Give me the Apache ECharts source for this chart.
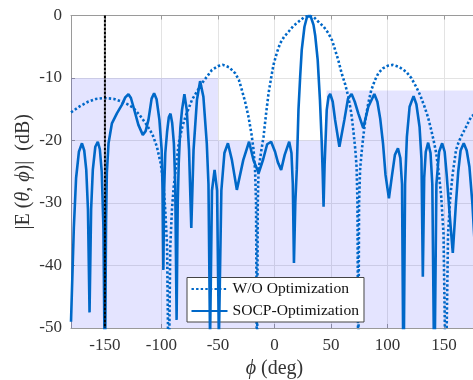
<!DOCTYPE html>
<html><head><meta charset="utf-8">
<script src="https://cdn.jsdelivr.net/npm/echarts@6/dist/echarts.min.js"></script>
<style>html,body{margin:0;padding:0;background:#fff}#c{width:473px;height:380px}</style>
</head><body><div id="c"></div>
<script>
// ---- data ----
const xTicks = [-150, -100, -50, 0, 50, 100, 150];
const yTicks = [0, -10, -20, -30, -40, -50];

const phiWO = [-180,-172,-165,-158,-150,-142,-135,-130,-124.8,-119,-113,-108,-104,-100.5,-98,-96.5,-95,-93.6,-92.2,-90.7,-89.2,-87.4,-84.7,-81.5,-78.8,-73,-64.2,-55.3,-50,-45.6,-40,-34.7,-31.5,-28.9,-26,-23,-20.5,-18.5,-17.2,-16.3,-15.5,-14.8,-14.1,-12,-9.7,-7.5,-5.3,-3,-0.9,2,5,8.5,12.4,16.5,21.2,26,30.5,35,38.8,43.5,47.7,51,53.6,56.5,59.4,62.5,65.3,67.8,69.7,71.5,72.6,73.4,74.1,74.8,75.7,77,78.5,80.5,83,85.5,88.9,92,95.9,100,104.7,110,116.5,121,125.3,129,132.7,135.8,138.6,141,143,145.2,147.5,149.5,151.5,153.5,155.5,157.7,160.6,162.8,165,169.5,173.9,177,180];
const valWO = [-15.5,-14.5,-13.8,-13.35,-13.2,-13.35,-13.8,-14.2,-14.8,-16,-17.5,-19,-21,-23.8,-27.5,-31.5,-37,-60,-37,-31,-27.5,-24.7,-20.4,-17.8,-16.2,-13.5,-10.85,-8.7,-8.1,-7.9,-8.3,-9.25,-10.3,-11.9,-13.8,-16.2,-18.8,-21.5,-24.7,-30,-60,-30,-24.7,-22,-19.4,-15.8,-12.5,-10,-7.9,-6,-4.45,-3.4,-2.6,-1.7,-1,-0.3,0,-0.3,-1,-1.8,-2.85,-4,-5.5,-7.2,-9.25,-11,-13,-15.5,-18.3,-21.5,-24.2,-30,-60,-30,-24.7,-22,-19.4,-16.5,-14,-12,-10.3,-9.2,-8.45,-8.05,-7.9,-8.2,-9,-10,-11.4,-12.8,-14.6,-16.3,-18.3,-20.2,-22,-25,-29,-35,-60,-35,-29,-25.2,-21.5,-20.3,-19.4,-17.8,-16.2,-15.8,-15.5];

const phiSOCP = [-180,-177.5,-175.5,-173,-170.3,-168.3,-166.5,-165,-163.6,-162.2,-160.7,-158.5,-156.3,-154.5,-152.8,-151.3,-150,-149,-148.3,-146.8,-143.8,-139.4,-135,-132,-129.2,-127,-124.8,-120.4,-116.5,-114,-111.5,-108.7,-106.5,-104.3,-101.8,-99.8,-99,-98.3,-97.6,-96.6,-95,-93.5,-92,-90.5,-89,-87.8,-86.6,-85.6,-84.7,-83.3,-81.8,-79.7,-77.6,-75.6,-73.6,-71.6,-68.6,-65.8,-62.9,-59.9,-58.4,-57,-55.3,-53,-50.8,-49.2,-47,-44.3,-41.2,-37.7,-33.3,-27.6,-22.5,-18.5,-14,-10,-6.5,-3,0.5,3,5.9,9,13,15,16.2,17.2,18.4,19.7,21.2,22.7,24.1,26.5,28.5,30.5,32.5,34.5,36,38.2,40.2,41.8,42.6,43.4,44.3,46.2,47.8,49.3,51.5,53.6,57.4,61.8,65,68.2,71,74.1,78.5,83,88.3,91,93.5,96,98.2,101.2,104,106.5,109.2,111.3,112.8,114.1,115.5,117.1,119.5,123,125.5,128.3,130,131.2,132.4,133.8,135.9,138,139.6,141.4,143.2,145.6,148.3,150.5,152.3,155,157.7,160.5,162.5,164.6,167.4,170,172.4,175,177.5,180];
const valSOCP = [-49,-34,-26,-21.8,-20.45,-21.6,-24.7,-31,-47.5,-31,-24.7,-21,-20.2,-21.4,-25,-34,-60,-33,-25.2,-20.45,-17.25,-15.65,-14.3,-13.1,-12.6,-13.2,-14.6,-17.5,-19.1,-18.5,-16.7,-13.3,-12.45,-13.4,-16.7,-21.5,-28,-40.7,-28,-22,-18.6,-16.3,-15.7,-17.2,-20.45,-27,-48.7,-30,-23.6,-18,-15.1,-12.6,-15.1,-21.5,-34,-21.5,-13.5,-10.5,-13,-20.45,-27,-52,-28,-24.7,-28,-52,-28,-22,-20.45,-23.1,-27.9,-23.1,-20.2,-23.2,-25.2,-23,-20.6,-20.2,-21.8,-23.5,-24.7,-22.3,-20.2,-22,-27,-39.6,-30,-24.7,-15.1,-9.8,-5.5,-1.8,-0.4,0,-0.4,-1.5,-3.2,-7.1,-13.5,-20.45,-25,-30.6,-24,-15.1,-13,-12.56,-13.8,-16.7,-21,-16.7,-13.3,-12.56,-13.8,-15.65,-18,-14.6,-12.56,-13.8,-16.5,-20.5,-25.5,-29.25,-25.5,-22.3,-21.25,-22.8,-27,-60,-27,-19.4,-14.6,-12.9,-14.2,-17.8,-23,-41.8,-26,-21.8,-20.35,-22,-27,-60,-27,-21.8,-20.45,-21.8,-25.5,-32,-38,-30,-25,-21.6,-20.45,-21.6,-24.2,-30,-38,-49];

// constraint mask (upper bound of shaded region)
const maskPhi = [-180, -50, -50, 46, 46, 180];
const maskLevel = [-10, -10, -20, -20, -12, -12];

const interfererPhi = -150;

// ---- build chart ----
const zip = (a, b) => a.map((v, i) => [v, b[i]]);
const FONT = 'Liberation Serif';
const axisGray = '#9a9a9a';
const chart = echarts.init(document.getElementById('c'), null, {renderer: 'canvas'});

chart.setOption({
  animation: false,
  backgroundColor: '#fff',
  grid: {left: 71, right: -5, top: 15.5, bottom: 52, containLabel: false, outerBoundsMode: 'none'},
  legend: {
    data: ['W/O Optimization', 'SOCP-Optimization'],
    orient: 'vertical', left: 187, top: 277.5,
    backgroundColor: '#fff', borderColor: '#444', borderWidth: 1,
    padding: [3.5, 5, 3, 3.5], itemWidth: 36, itemHeight: 14, itemGap: 6,
    itemStyle: {opacity: 0},
    textStyle: {fontFamily: FONT, fontSize: 15.6, color: '#111'}
  },
  xAxis: [{
    type: 'value', min: -180, max: 180, position: 'bottom',
    axisLine: {show: true, onZero: false, lineStyle: {color: axisGray, width: 1}},
    axisTick: {show: true, inside: true, length: 4, customValues: xTicks, lineStyle: {color: axisGray}},
    axisLabel: {customValues: xTicks, fontFamily: FONT, fontSize: 17, color: '#333', margin: 9},
    splitLine: {show: true, lineStyle: {color: '#e3e3e3', width: 1}},
    name: '{i|ϕ}{n| (deg)}', nameLocation: 'middle', nameGap: 29,
    nameTextStyle: {rich: {i: {fontFamily: FONT, fontStyle: 'italic', fontSize: 20, color: '#333'},
                           n: {fontFamily: FONT, fontSize: 20, color: '#333'}}}
  }, {
    type: 'value', min: -180, max: 180, position: 'top',
    axisLine: {show: true, onZero: false, lineStyle: {color: axisGray, width: 1}},
    axisTick: {show: true, inside: true, length: 4, customValues: xTicks, lineStyle: {color: axisGray}},
    axisLabel: {show: false}, splitLine: {show: false}
  }],
  yAxis: [{
    type: 'value', min: -50, max: 0, interval: 10,
    axisLine: {show: true, onZero: false, lineStyle: {color: axisGray, width: 1}},
    axisTick: {show: true, inside: true, length: 4, lineStyle: {color: axisGray}},
    axisLabel: {fontFamily: FONT, fontSize: 17, color: '#333', margin: 9},
    splitLine: {show: true, lineStyle: {color: '#e3e3e3', width: 1}},
    name: '{n||E (}{i|θ}{n|, }{i|ϕ}{n|)|  (dB)}', nameLocation: 'middle', nameGap: 37, nameRotate: 90,
    nameMoveOverlap: false,
    nameTextStyle: {rich: {i: {fontFamily: FONT, fontStyle: 'italic', fontSize: 20, color: '#333'},
                           n: {fontFamily: FONT, fontSize: 20, color: '#333'}}}
  }],
  series: [{
    name: 'mask', type: 'line', data: zip(maskPhi, maskLevel), symbol: 'none',
    lineStyle: {width: 0, opacity: 0},
    areaStyle: {origin: 'start', color: 'rgba(0,0,255,0.15)'},
    silent: true, z: 1
  }, {
    name: 'W/O Optimization', type: 'line', data: zip(phiWO, valWO), symbol: 'none',
    lineStyle: {color: '#0068c8', width: 2.6, type: [2.4, 2.2], cap: 'butt'},
    itemStyle: {color: '#0068c8'}, z: 3
  }, {
    name: 'SOCP-Optimization', type: 'line', data: zip(phiSOCP, valSOCP), symbol: 'none',
    lineStyle: {color: '#0068c8', width: 2.6}, itemStyle: {color: '#0068c8'}, z: 4
  }, {
    name: 'interferer', type: 'line', data: [[interfererPhi, 0], [interfererPhi, -50]], symbol: 'none',
    lineStyle: {color: '#000', width: 2, type: [3, 1]}, silent: true, z: 5
  }]
});
</script></body></html>
